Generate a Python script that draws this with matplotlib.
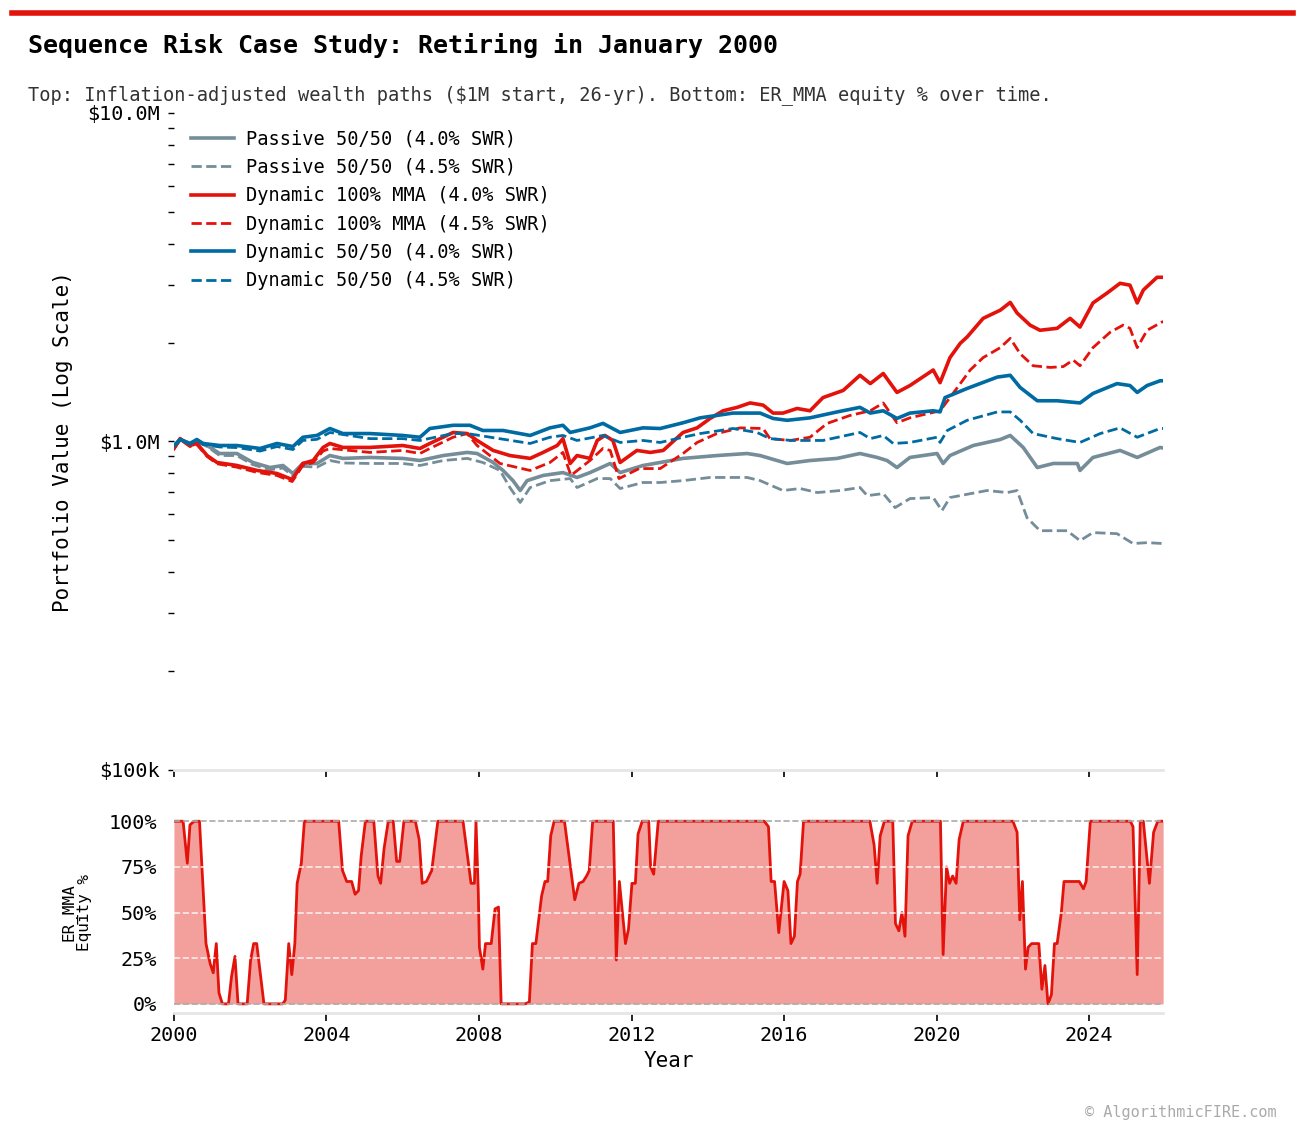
import numpy as np
import matplotlib
matplotlib.use("Agg")
import matplotlib.pyplot as plt
from matplotlib.lines import Line2D
from matplotlib.ticker import FuncFormatter, LogLocator, NullFormatter

RED = "#E3120B"
BLUE = "#006BA2"
GREY = "#758D99"

passive_40 = [
    (2000.0, 0.96), (2000.16, 1.014), (2000.42, 0.986), (2000.6, 1.007), (2000.87, 0.972),
    (2001.2, 0.919), (2001.65, 0.919), (2002.07, 0.863), (2002.52, 0.833), (2002.86, 0.845),
    (2003.12, 0.799), (2003.38, 0.857), (2003.75, 0.857), (2004.09, 0.906), (2004.43, 0.888),
    (2005.14, 0.894), (2006.0, 0.888), (2006.45, 0.875), (2007.06, 0.906), (2007.69, 0.926),
    (2007.95, 0.919), (2008.37, 0.863), (2008.63, 0.816), (2008.89, 0.760), (2009.08, 0.709),
    (2009.26, 0.760), (2009.68, 0.788), (2010.2, 0.804), (2010.57, 0.777), (2010.91, 0.804),
    (2011.44, 0.857), (2011.7, 0.804), (2012.3, 0.845), (2012.75, 0.863), (2013.35, 0.888),
    (2014.24, 0.906), (2015.03, 0.919), (2015.37, 0.906), (2016.08, 0.857), (2016.68, 0.875),
    (2017.39, 0.888), (2017.99, 0.919), (2018.44, 0.894), (2018.7, 0.875), (2018.96, 0.833),
    (2019.3, 0.894), (2020.01, 0.919), (2020.17, 0.857), (2020.35, 0.906), (2020.96, 0.972),
    (2021.67, 1.014), (2021.93, 1.043), (2022.27, 0.959), (2022.64, 0.833), (2023.06, 0.857),
    (2023.69, 0.857), (2023.76, 0.816), (2024.1, 0.894), (2024.81, 0.939), (2025.26, 0.894),
    (2025.86, 0.959), (2025.94, 0.955),
]
passive_45 = [
    (2000.0, 0.955), (2000.16, 1.007), (2000.42, 0.979), (2000.6, 1.0), (2000.87, 0.965),
    (2001.2, 0.906), (2001.65, 0.906), (2002.07, 0.85), (2002.52, 0.82), (2002.86, 0.83),
    (2003.12, 0.785), (2003.38, 0.84), (2003.75, 0.835), (2004.09, 0.875), (2004.43, 0.86),
    (2005.14, 0.857), (2006.0, 0.857), (2006.45, 0.845), (2007.06, 0.875), (2007.69, 0.888),
    (2008.1, 0.863), (2008.55, 0.816), (2008.81, 0.724), (2009.08, 0.652), (2009.34, 0.724),
    (2009.86, 0.760), (2010.39, 0.771), (2010.57, 0.724), (2011.1, 0.771), (2011.44, 0.771),
    (2011.7, 0.719), (2012.3, 0.750), (2012.75, 0.750), (2013.35, 0.760), (2014.06, 0.777),
    (2015.03, 0.777), (2015.37, 0.760), (2015.97, 0.709), (2016.42, 0.719), (2016.87, 0.699),
    (2017.47, 0.709), (2017.99, 0.724), (2018.18, 0.684), (2018.6, 0.694), (2018.91, 0.629),
    (2019.3, 0.670), (2019.91, 0.675), (2020.14, 0.616), (2020.35, 0.675), (2021.32, 0.709),
    (2021.85, 0.699), (2022.11, 0.709), (2022.37, 0.586), (2022.71, 0.535), (2023.42, 0.535),
    (2023.76, 0.499), (2024.1, 0.528), (2024.73, 0.524), (2025.15, 0.489), (2025.52, 0.492),
    (2025.94, 0.489),
]
mma_40 = [
    (2000.0, 0.952), (2000.16, 1.02), (2000.42, 0.972), (2000.6, 0.986), (2000.87, 0.906),
    (2001.13, 0.863), (2001.65, 0.845), (2002.18, 0.816), (2002.7, 0.799), (2003.1, 0.766),
    (2003.38, 0.857), (2003.65, 0.875), (2003.91, 0.959), (2004.09, 0.986), (2004.43, 0.959),
    (2005.14, 0.959), (2006.0, 0.972), (2006.45, 0.952), (2006.71, 0.986), (2007.32, 1.065),
    (2007.69, 1.057), (2007.95, 1.007), (2008.37, 0.939), (2008.81, 0.906), (2009.34, 0.888),
    (2009.68, 0.926), (2010.05, 0.972), (2010.2, 1.02), (2010.39, 0.857), (2010.57, 0.906),
    (2010.91, 0.888), (2011.1, 1.007), (2011.3, 1.043), (2011.51, 1.007), (2011.7, 0.863),
    (2012.14, 0.939), (2012.49, 0.926), (2012.83, 0.939), (2013.35, 1.065), (2013.72, 1.10),
    (2014.06, 1.175), (2014.4, 1.24), (2014.77, 1.27), (2015.11, 1.31), (2015.45, 1.29),
    (2015.71, 1.22), (2015.97, 1.22), (2016.34, 1.26), (2016.68, 1.24), (2017.02, 1.36),
    (2017.55, 1.43), (2017.99, 1.59), (2018.26, 1.50), (2018.6, 1.61), (2018.96, 1.41),
    (2019.3, 1.48), (2019.91, 1.65), (2020.09, 1.51), (2020.35, 1.80), (2020.62, 1.99),
    (2020.8, 2.08), (2021.22, 2.37), (2021.67, 2.51), (2021.93, 2.65), (2022.11, 2.46),
    (2022.45, 2.26), (2022.71, 2.18), (2023.16, 2.21), (2023.5, 2.37), (2023.76, 2.23),
    (2024.1, 2.64), (2024.47, 2.83), (2024.81, 3.03), (2025.07, 2.99), (2025.26, 2.64),
    (2025.42, 2.89), (2025.78, 3.16), (2025.94, 3.16),
]
mma_45 = [
    (2000.0, 0.948), (2000.16, 1.014), (2000.42, 0.965), (2000.6, 0.979), (2000.87, 0.90),
    (2001.13, 0.855), (2001.65, 0.835), (2002.18, 0.805), (2002.7, 0.788), (2003.1, 0.755),
    (2003.38, 0.845), (2003.65, 0.863), (2003.91, 0.935), (2004.09, 0.952), (2005.14, 0.926),
    (2006.0, 0.939), (2006.45, 0.919), (2006.71, 0.952), (2007.32, 1.03), (2007.69, 1.057),
    (2007.95, 0.972), (2008.55, 0.857), (2009.34, 0.816), (2009.86, 0.863), (2010.2, 0.926),
    (2010.41, 0.788), (2010.91, 0.875), (2011.25, 0.952), (2011.44, 0.939), (2011.67, 0.771),
    (2012.2, 0.827), (2012.75, 0.827), (2013.35, 0.919), (2013.72, 0.993), (2014.24, 1.057),
    (2014.85, 1.10), (2015.45, 1.095), (2015.63, 1.02), (2016.16, 1.007), (2016.68, 1.03),
    (2017.13, 1.135), (2017.73, 1.20), (2018.26, 1.24), (2018.6, 1.31), (2018.96, 1.14),
    (2019.3, 1.18), (2020.09, 1.24), (2020.35, 1.36), (2020.62, 1.50), (2020.88, 1.65),
    (2021.22, 1.80), (2021.67, 1.93), (2021.93, 2.06), (2022.19, 1.85), (2022.53, 1.70),
    (2022.98, 1.68), (2023.32, 1.69), (2023.58, 1.77), (2023.76, 1.70), (2024.1, 1.93),
    (2024.55, 2.15), (2024.89, 2.26), (2025.07, 2.21), (2025.26, 1.93), (2025.52, 2.18),
    (2025.94, 2.32),
]
dyn5050_40 = [
    (2000.0, 0.972), (2000.16, 1.014), (2000.42, 0.986), (2000.6, 1.014), (2000.76, 0.986),
    (2001.2, 0.972), (2001.65, 0.972), (2002.26, 0.952), (2002.7, 0.986), (2003.12, 0.965),
    (2003.38, 1.03), (2003.75, 1.043), (2004.09, 1.095), (2004.43, 1.057), (2005.14, 1.057),
    (2006.0, 1.043), (2006.45, 1.03), (2006.71, 1.095), (2007.32, 1.12), (2007.76, 1.12),
    (2008.1, 1.08), (2008.63, 1.08), (2009.34, 1.043), (2009.86, 1.10), (2010.2, 1.12),
    (2010.39, 1.065), (2010.91, 1.10), (2011.25, 1.135), (2011.7, 1.065), (2012.3, 1.10),
    (2012.75, 1.095), (2013.35, 1.14), (2013.8, 1.18), (2014.66, 1.22), (2015.37, 1.22),
    (2015.71, 1.175), (2016.08, 1.16), (2016.68, 1.18), (2017.39, 1.23), (2017.99, 1.27),
    (2018.26, 1.22), (2018.6, 1.24), (2018.96, 1.175), (2019.3, 1.22), (2019.91, 1.24),
    (2020.09, 1.23), (2020.22, 1.36), (2020.8, 1.45), (2021.59, 1.57), (2021.93, 1.59),
    (2022.19, 1.46), (2022.64, 1.33), (2023.16, 1.33), (2023.76, 1.31), (2024.1, 1.40),
    (2024.73, 1.50), (2025.07, 1.48), (2025.26, 1.41), (2025.52, 1.48), (2025.86, 1.53),
    (2025.94, 1.53),
]
dyn5050_45 = [
    (2000.0, 0.968), (2000.16, 1.01), (2000.42, 0.98), (2000.6, 1.007), (2000.76, 0.979),
    (2001.2, 0.962), (2001.65, 0.958), (2002.26, 0.935), (2002.7, 0.965), (2003.12, 0.945),
    (2003.38, 1.007), (2003.75, 1.015), (2004.09, 1.065), (2005.14, 1.02), (2006.0, 1.02),
    (2006.45, 1.007), (2007.32, 1.057), (2007.69, 1.057), (2008.3, 1.03), (2009.34, 0.986),
    (2009.86, 1.03), (2010.2, 1.043), (2010.57, 1.007), (2011.25, 1.043), (2011.7, 0.993),
    (2012.3, 1.007), (2012.75, 0.993), (2013.35, 1.03), (2013.8, 1.057), (2014.66, 1.095),
    (2015.29, 1.065), (2015.63, 1.02), (2016.2, 1.007), (2017.02, 1.007), (2017.99, 1.065),
    (2018.26, 1.02), (2018.6, 1.043), (2018.86, 0.986), (2019.3, 0.993), (2020.01, 1.03),
    (2020.09, 0.993), (2020.28, 1.08), (2020.8, 1.16), (2021.59, 1.23), (2021.93, 1.23),
    (2022.19, 1.16), (2022.53, 1.057), (2023.16, 1.02), (2023.76, 0.993), (2024.29, 1.057),
    (2024.81, 1.10), (2025.26, 1.03), (2025.86, 1.095), (2025.94, 1.095),
]

# (decimal year, ER_MMA equity %)
equity = [
    (2000.0, 100), (2000.24, 100), (2000.35, 77), (2000.42, 98), (2000.53, 100), (2000.67, 100),
    (2000.84, 33), (2000.95, 22), (2001.03, 17), (2001.11, 33), (2001.18, 6), (2001.27, 0),
    (2001.43, 0), (2001.51, 15), (2001.6, 26), (2001.68, 0), (2001.92, 0), (2002.01, 24),
    (2002.09, 33), (2002.17, 33), (2002.25, 19), (2002.36, 0), (2002.85, 0), (2002.92, 2),
    (2003.01, 33), (2003.09, 16), (2003.17, 33), (2003.23, 66), (2003.34, 77), (2003.42, 100),
    (2004.32, 100), (2004.42, 73), (2004.53, 67), (2004.66, 67), (2004.75, 60), (2004.84, 62),
    (2004.91, 81), (2005.02, 100), (2005.24, 100), (2005.35, 70), (2005.42, 66), (2005.51, 85),
    (2005.62, 100), (2005.75, 100), (2005.84, 78), (2005.92, 78), (2006.03, 100), (2006.33, 100),
    (2006.43, 90), (2006.51, 66), (2006.62, 67), (2006.76, 73), (2006.92, 100), (2007.58, 100),
    (2007.79, 66), (2007.88, 66), (2007.92, 100), (2007.98, 62), (2008.01, 31), (2008.1, 19),
    (2008.17, 33), (2008.32, 33), (2008.42, 52), (2008.51, 53), (2008.58, 0), (2009.21, 0),
    (2009.32, 1), (2009.4, 33), (2009.49, 33), (2009.64, 59), (2009.73, 67), (2009.8, 67),
    (2009.88, 92), (2009.97, 100), (2010.24, 100), (2010.51, 57), (2010.62, 66), (2010.73, 67),
    (2010.82, 70), (2010.89, 73), (2010.98, 100), (2011.52, 100), (2011.6, 24), (2011.68, 67),
    (2011.84, 33), (2011.92, 41), (2012.01, 66), (2012.1, 66), (2012.17, 93), (2012.28, 100),
    (2012.45, 100), (2012.5, 75), (2012.58, 71), (2012.7, 100), (2015.48, 100), (2015.59, 97),
    (2015.66, 67), (2015.75, 67), (2015.86, 39), (2016.0, 67), (2016.1, 62), (2016.18, 33),
    (2016.27, 37), (2016.35, 67), (2016.42, 71), (2016.51, 100), (2018.25, 100), (2018.36, 87),
    (2018.44, 66), (2018.52, 92), (2018.63, 100), (2018.85, 100), (2018.92, 44), (2019.01, 40),
    (2019.09, 50), (2019.17, 37), (2019.25, 92), (2019.36, 100), (2020.1, 100), (2020.17, 27),
    (2020.26, 75), (2020.34, 66), (2020.42, 70), (2020.51, 66), (2020.59, 90), (2020.7, 100),
    (2022.0, 100), (2022.11, 94), (2022.18, 46), (2022.25, 67), (2022.33, 19), (2022.4, 31),
    (2022.49, 33), (2022.68, 33), (2022.76, 8), (2022.84, 21), (2022.92, 0), (2023.01, 5),
    (2023.09, 33), (2023.16, 33), (2023.27, 50), (2023.34, 67), (2023.74, 67), (2023.85, 63),
    (2023.92, 67), (2024.03, 100), (2025.08, 100), (2025.15, 97), (2025.26, 16), (2025.34, 100),
    (2025.42, 100), (2025.58, 66), (2025.69, 94), (2025.8, 100), (2025.94, 100),
]

series = [
    ("Passive 50/50 (4.0% SWR)", passive_40, GREY, "-", 2.6),
    ("Passive 50/50 (4.5% SWR)", passive_45, GREY, "--", 2.0),
    ("Dynamic 100% MMA (4.0% SWR)", mma_40, RED, "-", 2.6),
    ("Dynamic 100% MMA (4.5% SWR)", mma_45, RED, "--", 2.0),
    ("Dynamic 50/50 (4.0% SWR)", dyn5050_40, BLUE, "-", 2.6),
    ("Dynamic 50/50 (4.5% SWR)", dyn5050_45, BLUE, "--", 2.0),
]
year_ticks = list(range(2000, 2025, 4))

plt.rcParams["font.family"] = ["DejaVu Sans Mono"]

fig = plt.figure(figsize=(13.05, 11.35), dpi=100)
ax = fig.add_axes([0.1333, 0.3216, 0.758, 0.5789])
ax2 = fig.add_axes([0.1333, 0.1075, 0.758, 0.177], sharex=ax)

for label, pts, color, ls, lw in series:
    arr = np.array(pts)
    ax.plot(arr[:, 0], arr[:, 1] * 1e6, color=color, ls=ls, lw=lw, label=label)

ax.set_yscale("log")
ax.set_ylim(1e5, 1e7)
ax.set_xlim(2000.0, 2025.94)
ax.yaxis.set_major_locator(LogLocator(base=10))
ax.yaxis.set_minor_locator(LogLocator(base=10, subs=np.arange(2, 10)))
ax.yaxis.set_minor_formatter(NullFormatter())
ax.yaxis.set_major_formatter(FuncFormatter(
    lambda v, _: f"${v / 1e6:.1f}M" if v >= 1e6 else f"${v / 1e3:.0f}k"))
ax.set_ylabel("Portfolio Value (Log Scale)", fontsize=15, labelpad=10)
ax.tick_params(axis="y", which="both", length=4, width=1, pad=6, labelsize=14.5)
ax.tick_params(axis="x", length=5, width=1.2, labelbottom=False)
ax.legend(loc="upper left", frameon=False, fontsize=13.4, handlelength=2.3,
          handletextpad=0.65, labelspacing=0.5)

eq = np.array(equity, dtype=float)
ax2.fill_between(eq[:, 0], eq[:, 1] / 100, color=RED, alpha=0.4, lw=0)
ax2.plot(eq[:, 0], eq[:, 1] / 100, color=RED, lw=2)
for lvl in (0.25, 0.5, 0.75):
    ax2.axhline(lvl, color="white", ls="--", lw=1.2, alpha=0.8, zorder=3)
for lvl in (0.0, 1.0):
    ax2.axhline(lvl, color="#aaaaaa", ls="--", lw=1.2, zorder=3)
ax2.set_ylim(-0.05, 1.05)
ax2.set_yticks([0, 0.25, 0.5, 0.75, 1.0])
ax2.set_yticklabels(["0%", "25%", "50%", "75%", "100%"])
ax2.set_xticks(year_ticks)
ax2.set_xticklabels([str(y) for y in year_ticks])
ax2.tick_params(axis="y", length=0, pad=12, labelsize=14.5)
ax2.tick_params(axis="x", length=6, width=1.2, labelsize=14.5)
ax2.set_ylabel("ER_MMA\nEquity %", fontsize=11.5, labelpad=12, linespacing=0.95)
ax2.set_xlabel("Year", fontsize=15, labelpad=4)

for a in (ax, ax2):
    for side in ("top", "right", "left"):
        a.spines[side].set_visible(False)
    a.spines["bottom"].set_color("#e6e6e6")
    a.spines["bottom"].set_linewidth(2)

fig.add_artist(Line2D([12 / 1305, 1293 / 1305], [1 - 13 / 1135] * 2, color=RED, lw=4))
fig.text(28 / 1305, 1 - 45 / 1135, "Sequence Risk Case Study: Retiring in January 2000",
         fontsize=18, fontweight="bold", va="center")
fig.text(28 / 1305, 1 - 95 / 1135,
         "Top: Inflation-adjusted wealth paths ($1M start, 26-yr). Bottom: ER_MMA equity % over time.",
         fontsize=13.4, color="#333333", va="center")
fig.text(1277 / 1305, 1 - 1112 / 1135, "© AlgorithmicFIRE.com", ha="right", va="center",
         fontsize=11, color="#aaaaaa")

fig.savefig("out.png", dpi=100)
